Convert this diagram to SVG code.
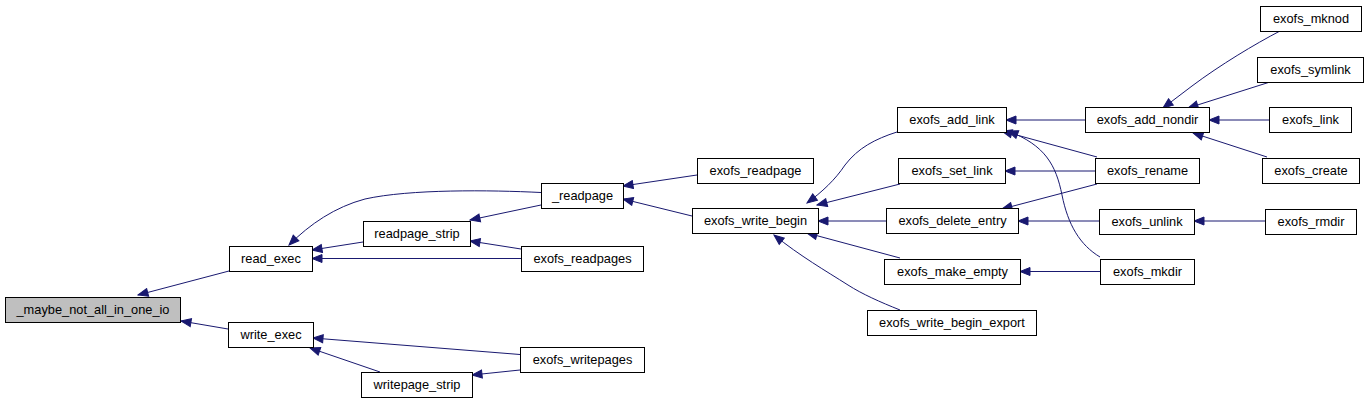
<svg xmlns="http://www.w3.org/2000/svg" width="1369" height="404" viewBox="0 0 1369 404">
<style>
.node rect{fill:#ffffff;stroke:#000000;stroke-width:1}
.node.root rect{fill:#bfbfbf}
.node text{font-family:"Liberation Sans",Arial,sans-serif;font-size:12.8px;fill:#000;text-anchor:middle}
.edges path{fill:none;stroke:#191970;stroke-width:1}
</style>
<defs>
<marker id="ah" viewBox="-1 -1 12 10" refX="10" refY="4" markerWidth="12" markerHeight="10" markerUnits="userSpaceOnUse" orient="auto">
<path d="M0,0 L10,4 L0,8 z" fill="#191970" stroke="#191970" stroke-width="1"/>
</marker>
</defs>
<rect width="1369" height="404" fill="#ffffff"/>
<g class="edges">
<path d="M229,271 L138,295" marker-end="url(#ah)"/>
<path d="M228,329 L181,321" marker-end="url(#ah)"/>
<path d="M363,242 L312,250" marker-end="url(#ah)"/>
<path d="M521,258.5 L312,258.5" marker-end="url(#ah)"/>
<path d="M541,192.5 C490,190 410,189 365,199 C335,207 310,224 289,245" marker-end="url(#ah)"/>
<path d="M541,205 L470,220" marker-end="url(#ah)"/>
<path d="M521,249 L470,241" marker-end="url(#ah)"/>
<path d="M520,354.5 L313,338" marker-end="url(#ah)"/>
<path d="M380,372 L310,348" marker-end="url(#ah)"/>
<path d="M520,370 L472,375" marker-end="url(#ah)"/>
<path d="M697,175 L623,186" marker-end="url(#ah)"/>
<path d="M692,216 L623,199" marker-end="url(#ah)"/>
<path d="M897,132 C875,139 858,148 845,165 C835,180 822,192 807,203" marker-end="url(#ah)"/>
<path d="M900,184 L817,205" marker-end="url(#ah)"/>
<path d="M886,221 L818,221" marker-end="url(#ah)"/>
<path d="M900,258 L807,233" marker-end="url(#ah)"/>
<path d="M900,310 C880,302 862,294 848,285 C826,271 800,256 774,235" marker-end="url(#ah)"/>
<path d="M1085,120 L1006,120" marker-end="url(#ah)"/>
<path d="M1097,157 L1002,131" marker-end="url(#ah)"/>
<path d="M1100,257 C1080,245 1068,225 1062,195 C1056,165 1045,145 1008,131" marker-end="url(#ah)"/>
<path d="M1095,171 L1005,171" marker-end="url(#ah)"/>
<path d="M1097,184 L1002,209" marker-end="url(#ah)"/>
<path d="M1099,221 L1018,221" marker-end="url(#ah)"/>
<path d="M1100,271.5 L1020,271.5" marker-end="url(#ah)"/>
<path d="M1265,221 L1194,221" marker-end="url(#ah)"/>
<path d="M1280,31 C1255,44 1220,65 1192,86 L1163,108" marker-end="url(#ah)"/>
<path d="M1270,82 L1188,108" marker-end="url(#ah)"/>
<path d="M1269,120 L1209,120" marker-end="url(#ah)"/>
<path d="M1267,157 L1193,133" marker-end="url(#ah)"/>
</g>
<g id="n_maybe_not_all_in_one_io" class="node root"><rect x="5.5" y="297.5" width="175" height="25"/><text x="93" y="314">_maybe_not_all_in_one_io</text></g>
<g id="n_read_exec" class="node"><rect x="229.5" y="246.5" width="83" height="25"/><text x="271" y="263">read_exec</text></g>
<g id="n_write_exec" class="node"><rect x="228.5" y="322.5" width="85" height="25"/><text x="271" y="339">write_exec</text></g>
<g id="n_readpage_" class="node"><rect x="541.5" y="183.5" width="82" height="25"/><text x="582.5" y="200">_readpage</text></g>
<g id="n_readpage_strip" class="node"><rect x="363.5" y="221.5" width="107" height="25"/><text x="417" y="238">readpage_strip</text></g>
<g id="n_exofs_readpages" class="node"><rect x="521.5" y="246.5" width="122" height="25"/><text x="582.5" y="263">exofs_readpages</text></g>
<g id="n_exofs_writepages" class="node"><rect x="520.5" y="347.5" width="124" height="25"/><text x="582.5" y="364">exofs_writepages</text></g>
<g id="n_writepage_strip" class="node"><rect x="361.5" y="372.5" width="111" height="25"/><text x="417" y="389">writepage_strip</text></g>
<g id="n_exofs_readpage" class="node"><rect x="697.5" y="158.5" width="116" height="25"/><text x="755.5" y="175">exofs_readpage</text></g>
<g id="n_exofs_write_begin" class="node"><rect x="692.5" y="208.5" width="126" height="25"/><text x="755.5" y="225">exofs_write_begin</text></g>
<g id="n_exofs_add_link" class="node"><rect x="897.5" y="107.5" width="109" height="25"/><text x="952" y="124">exofs_add_link</text></g>
<g id="n_exofs_set_link" class="node"><rect x="898.5" y="158.5" width="107" height="25"/><text x="952" y="175">exofs_set_link</text></g>
<g id="n_exofs_delete_entry" class="node"><rect x="886.5" y="208.5" width="132" height="25"/><text x="952.5" y="225">exofs_delete_entry</text></g>
<g id="n_exofs_make_empty" class="node"><rect x="884.5" y="259.5" width="136" height="25"/><text x="952.5" y="276">exofs_make_empty</text></g>
<g id="n_exofs_write_begin_export" class="node"><rect x="867.5" y="310.5" width="169" height="25"/><text x="952" y="327">exofs_write_begin_export</text></g>
<g id="n_exofs_add_nondir" class="node"><rect x="1085.5" y="107.5" width="124" height="25"/><text x="1147.5" y="124">exofs_add_nondir</text></g>
<g id="n_exofs_rename" class="node"><rect x="1095.5" y="158.5" width="104" height="25"/><text x="1147.5" y="175">exofs_rename</text></g>
<g id="n_exofs_unlink" class="node"><rect x="1099.5" y="209.5" width="95" height="25"/><text x="1147" y="226">exofs_unlink</text></g>
<g id="n_exofs_mkdir" class="node"><rect x="1100.5" y="259.5" width="94" height="25"/><text x="1147.5" y="276">exofs_mkdir</text></g>
<g id="n_exofs_mknod" class="node"><rect x="1260.5" y="6.5" width="101" height="25"/><text x="1311" y="23">exofs_mknod</text></g>
<g id="n_exofs_symlink" class="node"><rect x="1257.5" y="57.5" width="106" height="25"/><text x="1310.5" y="74">exofs_symlink</text></g>
<g id="n_exofs_link" class="node"><rect x="1269.5" y="107.5" width="82" height="25"/><text x="1310.5" y="124">exofs_link</text></g>
<g id="n_exofs_create" class="node"><rect x="1262.5" y="158.5" width="97" height="25"/><text x="1311" y="175">exofs_create</text></g>
<g id="n_exofs_rmdir" class="node"><rect x="1265.5" y="209.5" width="91" height="25"/><text x="1311" y="226">exofs_rmdir</text></g>
</svg>
